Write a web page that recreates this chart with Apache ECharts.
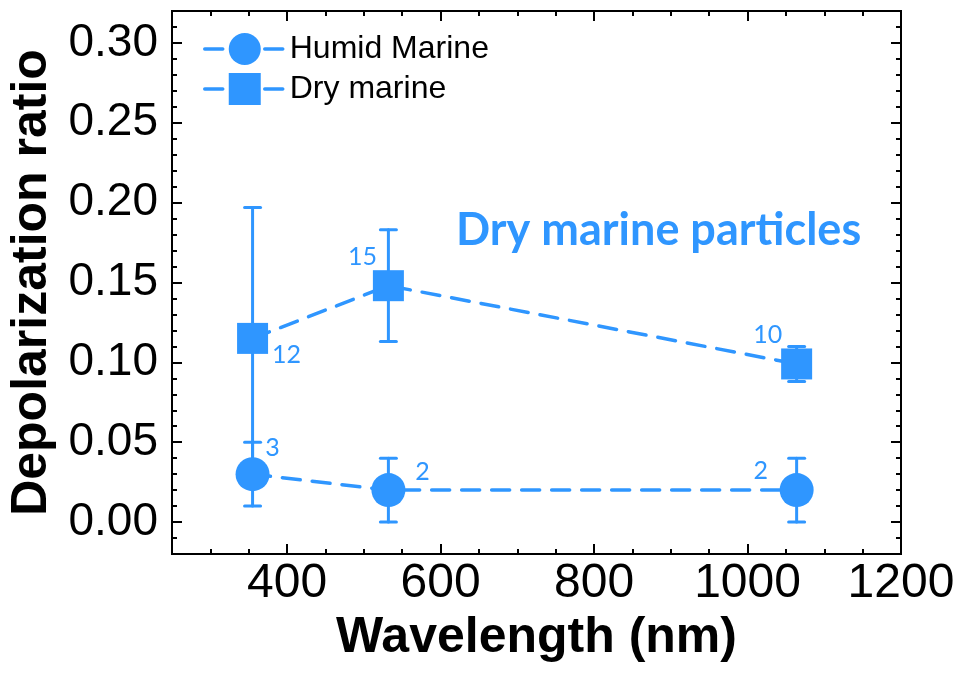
<!DOCTYPE html>
<html><head><meta charset="utf-8">
<script src="https://cdn.jsdelivr.net/npm/echarts@6/dist/echarts.min.js"></script>
<style>html,body{margin:0;padding:0;background:#fff}#c{width:955px;height:676px}</style>
</head><body><div id="c"></div>
<script>
// ---- data ----
const wavelengths = [355, 532, 1064];
const humidValues = [0.030, 0.020, 0.020];
const humidErrors = [0.020, 0.020, 0.020];
const dryValues = [0.115, 0.148, 0.099];
const dryErrors = [0.082, 0.035, 0.011];
const humidCounts = [3, 2, 2];
const dryCounts = [12, 15, 10];
const xMajorTicks = [400, 600, 800, 1000, 1200];
const yMajorTicks = [0, 0.05, 0.10, 0.15, 0.20, 0.25, 0.30];
const seriesNames = ['Humid Marine', 'Dry marine'];
const annotationText = 'Dry marine particles';

// ---- styles ----
const BLUE = '#2f96ff';
const AXIS_FONT = 'Liberation Sans, Arial, sans-serif';
const NOTE_FONT = 'Lato, sans-serif';
const humidLabelOffsets = [[20, -26], [34, -18], [-36, -19]];
const dryLabelOffsets = [[34, 17], [-26, -29], [-29, -29]];
const DASH = [18, 12];

const chart = echarts.init(document.getElementById('c'), null, {renderer: 'canvas'});

function lineData(values, counts, offsets) {
  return wavelengths.map((w, i) => ({
    value: [w, values[i]],
    label: {offset: offsets[i], formatter: String(counts[i])}
  }));
}
function errData(values, errs) {
  return wavelengths.map((w, i) => [w, values[i] - errs[i], values[i] + errs[i]]);
}
function renderErr(params, api) {
  const x = api.value(0), lo = api.value(1), hi = api.value(2);
  const p1 = api.coord([x, hi]), p2 = api.coord([x, lo]);
  const hw = 8;
  const style = {stroke: BLUE, lineWidth: 3, lineCap: 'round', fill: null};
  return {type: 'group', children: [
    {type: 'line', shape: {x1: p1[0], y1: p1[1], x2: p2[0], y2: p2[1]}, style: style},
    {type: 'line', shape: {x1: p1[0] - hw, y1: p1[1], x2: p1[0] + hw, y2: p1[1]}, style: style},
    {type: 'line', shape: {x1: p2[0] - hw, y1: p2[1], x2: p2[0] + hw, y2: p2[1]}, style: style}
  ]};
}

const xBase = {type: 'value', min: 250, max: 1200, gridIndex: 0,
  axisLine: {show: false, onZero: false}, splitLine: {show: false}};
const yBase = {type: 'value', min: -0.02, max: 0.32, gridIndex: 0,
  axisLine: {show: false, onZero: false}, splitLine: {show: false}};

const tickStyle = {color: '#000', width: 2};

const option = {
  animation: false,
  backgroundColor: '#fff',
  grid: {left: 172, right: 54, top: 11, bottom: 122, show: true, borderColor: '#000', borderWidth: 2,
    backgroundColor: 'transparent', outerBoundsMode: 'none', containLabel: false},
  title: {
    text: annotationText, left: 456, top: 208, padding: 0,
    textStyle: {color: BLUE, fontFamily: NOTE_FONT, fontWeight: 'bold', fontSize: 45}
  },
  legend: {
    data: seriesNames, orient: 'vertical', left: 203, top: 29, padding: 0,
    itemWidth: 80, itemHeight: 40, itemGap: 0,
    lineStyle: {width: 3.5, type: DASH, cap: 'round', color: BLUE},
    textStyle: {fontFamily: AXIS_FONT, fontSize: 32, color: '#000', lineHeight: 40}
  },
  xAxis: [
    Object.assign({}, xBase, {
      position: 'bottom',
      name: 'Wavelength (nm)', nameLocation: 'middle', nameGap: 48,
      nameTextStyle: {fontFamily: AXIS_FONT, fontWeight: 'bold', fontSize: 50, color: '#000'},
      axisTick: {show: true, inside: true, length: 10, lineStyle: tickStyle, customValues: xMajorTicks},
      axisLabel: {show: true, margin: 6, fontFamily: AXIS_FONT, fontSize: 48, color: '#000', customValues: xMajorTicks,
        formatter: v => String(v)}
    }),
    Object.assign({}, xBase, {position: 'bottom', interval: 50,
      axisTick: {show: true, inside: true, length: 5, lineStyle: tickStyle}, axisLabel: {show: false}}),
    Object.assign({}, xBase, {position: 'top',
      axisTick: {show: true, inside: true, length: 10, lineStyle: tickStyle, customValues: xMajorTicks}, axisLabel: {show: false}}),
    Object.assign({}, xBase, {position: 'top', interval: 50,
      axisTick: {show: true, inside: true, length: 5, lineStyle: tickStyle}, axisLabel: {show: false}})
  ],
  yAxis: [
    Object.assign({}, yBase, {
      position: 'left',
      name: 'Depolarization ratio', nameLocation: 'middle', nameGap: 112, nameRotate: 90,
      nameTextStyle: {fontFamily: AXIS_FONT, fontWeight: 'bold', fontSize: 50, color: '#000'},
      axisTick: {show: true, inside: true, length: 10, lineStyle: tickStyle, customValues: yMajorTicks},
      axisLabel: {show: true, margin: 14, fontFamily: AXIS_FONT, fontSize: 46, color: '#000', customValues: yMajorTicks,
        formatter: v => v.toFixed(2)}
    }),
    Object.assign({}, yBase, {position: 'left', interval: 0.01,
      axisTick: {show: true, inside: true, length: 5, lineStyle: tickStyle}, axisLabel: {show: false}}),
    Object.assign({}, yBase, {position: 'right',
      axisTick: {show: true, inside: true, length: 10, lineStyle: tickStyle, customValues: yMajorTicks}, axisLabel: {show: false}}),
    Object.assign({}, yBase, {position: 'right', interval: 0.01,
      axisTick: {show: true, inside: true, length: 5, lineStyle: tickStyle}, axisLabel: {show: false}})
  ],
  series: [
    {type: 'custom', name: 'humidErr', xAxisIndex: 0, yAxisIndex: 0, z: 1,
      data: errData(humidValues, humidErrors), encode: {x: 0, y: [1, 2]}, renderItem: renderErr, silent: true},
    {type: 'custom', name: 'dryErr', xAxisIndex: 0, yAxisIndex: 0, z: 1,
      data: errData(dryValues, dryErrors), encode: {x: 0, y: [1, 2]}, renderItem: renderErr, silent: true},
    {type: 'line', name: seriesNames[0], xAxisIndex: 0, yAxisIndex: 0, z: 3,
      data: lineData(humidValues, humidCounts, humidLabelOffsets),
      symbol: 'circle', symbolSize: 34, showAllSymbol: true,
      itemStyle: {color: BLUE},
      lineStyle: {color: BLUE, width: 3.5, type: DASH, cap: 'round'},
      label: {show: true, position: 'inside', color: BLUE, fontFamily: NOTE_FONT, fontSize: 25}},
    {type: 'line', name: seriesNames[1], xAxisIndex: 0, yAxisIndex: 0, z: 3,
      data: lineData(dryValues, dryCounts, dryLabelOffsets),
      symbol: 'rect', symbolSize: 31, showAllSymbol: true,
      itemStyle: {color: BLUE},
      lineStyle: {color: BLUE, width: 3.5, type: DASH, cap: 'round'},
      label: {show: true, position: 'inside', color: BLUE, fontFamily: NOTE_FONT, fontSize: 25}}
  ]
};
chart.setOption(option);
</script>
</body></html>
